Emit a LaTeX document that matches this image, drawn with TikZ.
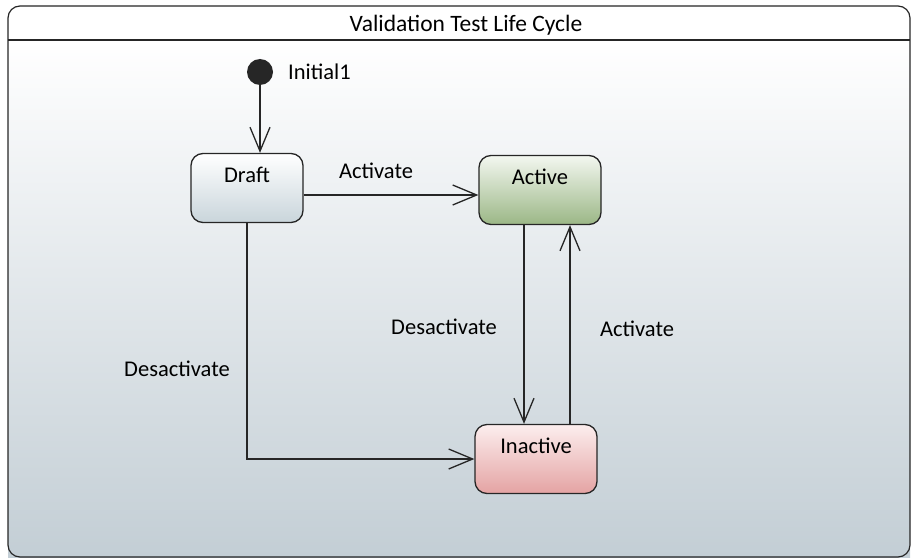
\documentclass[tikz,border=0pt]{standalone}
\usepackage{fontspec}
\setmainfont{Carlito}
\usepackage{tikz}
\usetikzlibrary{arrows.meta}
\definecolor{cizgi}{HTML}{262626}
\definecolor{zeminAlt}{HTML}{C3CED5}
\definecolor{taslakAlt}{HTML}{C9D5DB}
\definecolor{aktifUst}{HTML}{F3F7F0}
\definecolor{aktifAlt}{HTML}{9BB786}
\definecolor{pasifUst}{HTML}{FCEEEE}
\definecolor{pasifAlt}{HTML}{E4A3A3}
\begin{document}
\begin{tikzpicture}[x=1pt,y=-1pt,
  yazi/.style={font=\fontsize{22.5}{24}\selectfont},
  durum/.style={draw=cizgi,line width=1.3pt,rounded corners=12pt,
    minimum width=112pt,inner ysep=11pt,text height=18pt,text depth=29pt,
    font=\fontsize{22.5}{24}\selectfont},
  gecis/.style={draw=cizgi,line width=1.3pt,
    -{Straight Barb[length=24pt,width=20pt]}}]
\useasboundingbox (0,0) rectangle (912,559);
\clip (0,0) rectangle (912,559);
% cerceve
\shade[top color=white,bottom color=zeminAlt,shading angle=0]
  (8,40) rectangle (910,557);
\fill[white,rounded corners=12pt] (8,40) |- (910,6) -- (910,40) -- cycle;
\draw[cizgi,line width=1.2pt,rounded corners=12pt] (8,6) rectangle (910,557);
\draw[cizgi,line width=1.2pt] (8,40) -- (910,40);
\node[yazi,font=\fontsize{23.5}{25}\selectfont] (baslik) at (466,25) {Validation Test Life Cycle};
% durumlar
\fill[cizgi] (260,72) circle (13pt);
\coordinate (ilk) at (260,85);
\node[yazi,anchor=west,inner xsep=0pt] (ilkAd) at (288,72) {Initial1};
\node[durum,top color=white,bottom color=taslakAlt] (taslak) at (247,188) {Draft};
\node[durum,minimum width=122pt,top color=aktifUst,bottom color=aktifAlt] (aktif) at (540,190) {Active};
\node[durum,minimum width=122pt,top color=pasifUst,bottom color=pasifAlt] (pasif) at (536,459) {Inactive};
% gecisler
\draw[gecis] (ilk) -- (ilk |- taslak.north);
\coordinate (t1) at ([yshift=-7pt]taslak.east);
\draw[gecis] (t1) -- (t1 -| aktif.west);
\coordinate (a1) at ([xshift=-16pt]aktif.south);
\draw[gecis] (a1) -- (a1 |- pasif.north);
\coordinate (p1) at ([xshift=34pt]pasif.north);
\draw[gecis] (p1) -- (p1 |- aktif.south);
\draw[gecis] (taslak.south) |- (pasif.west);
% etiketler
\node[yazi] (e1) at (376,171) {Activate};
\node[yazi] (e2) at (444,327) {Desactivate};
\node[yazi] (e3) at (637,329) {Activate};
\node[yazi] (e4) at (177,369) {Desactivate};
\end{tikzpicture}
\end{document}
